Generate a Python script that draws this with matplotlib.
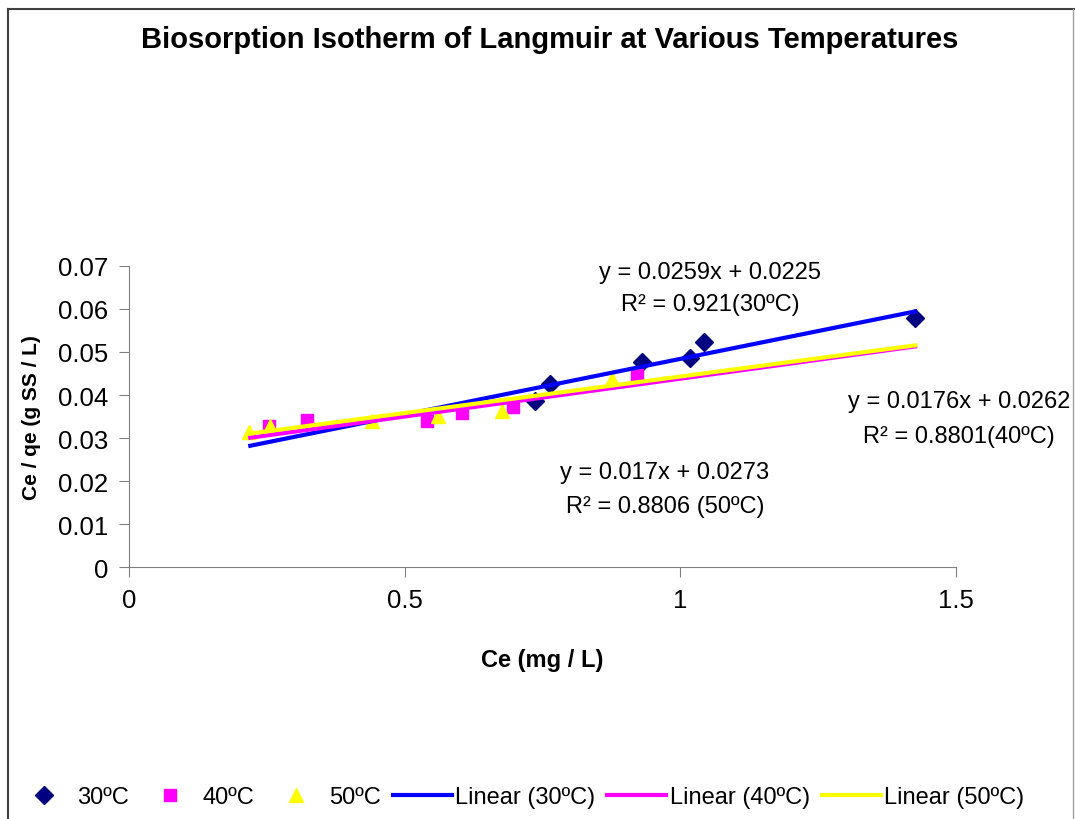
import numpy as np
import matplotlib.pyplot as plt
from matplotlib.lines import Line2D

plt.rcParams['font.family'] = ['Liberation Sans', 'DejaVu Sans']

# данные (Ce, Ce/qe)
x30 = [0.736, 0.764, 0.930, 1.018, 1.043, 1.426]
y30 = [0.0386, 0.0426, 0.0477, 0.0486, 0.0523, 0.0579]
x40 = [0.254, 0.323, 0.541, 0.604, 0.697, 0.921]
y40 = [0.0328, 0.0342, 0.0340, 0.0358, 0.0372, 0.0447]
x50 = [0.218, 0.256, 0.441, 0.561, 0.676, 0.876]
y50 = [0.0314, 0.0328, 0.0340, 0.0351, 0.0363, 0.0437]

# коэффициенты линейной аппроксимации (из подписей)
k30, b30 = 0.0259, 0.0225
k40, b40 = 0.0176, 0.0262
k50, b50 = 0.017, 0.0273

fig = plt.figure(figsize=(10.75, 8.2), dpi=100)
ax = fig.add_axes([0.12, 0.3073, 0.7693, 0.3671])

xf = np.array([0.22, 1.426])
ax.plot(x30, y30, 'D', color='#000080', ms=9, ls='none', zorder=3)
ax.plot(x40, y40, 's', color='#FF00FF', ms=8.5, ls='none', zorder=3)
ax.plot(x50, y50, '^', color='#FFFF00', ms=10, ls='none', zorder=3)
ax.plot(xf, k30 * xf + b30, color='#0000FF', lw=3, zorder=4)
ax.plot(xf, k40 * xf + b40, color='#FF00FF', lw=3, zorder=4)
ax.plot(xf, k50 * xf + b50, color='#FFFF00', lw=3, zorder=4)

ax.set_xlim(0, 1.5)
ax.set_ylim(0, 0.07)
ax.set_xticks([0, 0.5, 1, 1.5])
ax.set_xticklabels(['0', '0.5', '1', '1.5'])
ax.set_yticks(np.arange(0, 0.071, 0.01))
ax.set_yticklabels(['0', '0.01', '0.02', '0.03', '0.04', '0.05', '0.06', '0.07'])
for s in ['top', 'right']:
    ax.spines[s].set_visible(False)
for s in ['left', 'bottom']:
    ax.spines[s].set_color('#808080')
ax.tick_params(axis='both', direction='out', length=7, color='#808080',
               labelsize=18.5, pad=8)

ax.set_xlabel('Ce (mg / L)', fontsize=17, fontweight='bold', labelpad=26)
ax.set_ylabel('Ce / qe (g SS / L)', fontsize=15, fontweight='bold', labelpad=12)
fig.suptitle('Biosorption Isotherm of Langmuir at Various Temperatures',
             fontsize=21, fontweight='bold', x=0.511, y=0.968)

# подписи уравнений
tk = dict(transform=ax.transAxes, ha='center', va='center', fontsize=17)
ax.text(0.703, 0.98, 'y = 0.0259x + 0.0225', **tk)
ax.text(0.703, 0.874, 'R² = 0.921(30ºC)', **tk)
ax.text(1.004, 0.551, 'y = 0.0176x + 0.0262', **tk)
ax.text(1.004, 0.435, 'R² = 0.8801(40ºC)', **tk)
ax.text(0.648, 0.316, 'y = 0.017x + 0.0273', **tk)
ax.text(0.648, 0.203, 'R² = 0.8806 (50ºC)', **tk)

# рамка диаграммы
fig.add_artist(Line2D([8 / 1075, 8 / 1075], [0, 1 - 10 / 820], color='#404040', lw=1.5))
fig.add_artist(Line2D([8 / 1075, 1074 / 1075], [1 - 10 / 820, 1 - 10 / 820], color='#404040', lw=1.5))
fig.add_artist(Line2D([1073 / 1075, 1073 / 1075], [0, 1 - 10 / 820], color='#A0A0A0', lw=1))

handles = [
    Line2D([], [], marker='D', color='#000080', ms=9, ls='none'),
    Line2D([], [], marker='s', color='#FF00FF', ms=8.5, ls='none'),
    Line2D([], [], marker='^', color='#FFFF00', ms=10, ls='none'),
    Line2D([], [], color='#0000FF', lw=3),
    Line2D([], [], color='#FF00FF', lw=3),
    Line2D([], [], color='#FFFF00', lw=3),
]
labels = ['30ºC', '40ºC', '50ºC', 'Linear (30ºC)', 'Linear (40ºC)', 'Linear (50ºC)']
fig.legend(handles, labels, loc='center', bbox_to_anchor=(0.483, 0.027), ncol=6,
           frameon=False, fontsize=17, handlelength=2.5, handletextpad=0.15,
           columnspacing=0.5, borderaxespad=0)

fig.savefig('out.png', dpi=100)
